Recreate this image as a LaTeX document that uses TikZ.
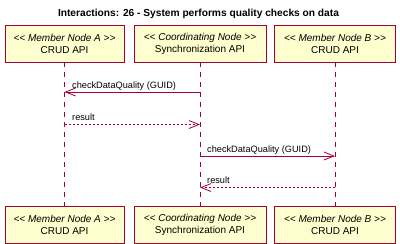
\documentclass[tikz,border=0pt]{standalone}
\usepackage{fontspec}
\setmainfont{Liberation Sans}
\usetikzlibrary{arrows.meta}
\definecolor{umlred}{HTML}{A80036}
\definecolor{umlfill}{HTML}{FEFECE}
% stereotype brackets, kept apart so the font does not join them
\newcommand{\stlt}{<\kern0pt<}
\newcommand{\stgt}{>\kern0pt>}
\begin{document}
\begin{tikzpicture}[x=1pt,y=-1pt,
  participant/.style={draw=umlred,fill=umlfill,line width=0.9pt,minimum height=37pt,
    inner sep=0pt,align=center,font=\fontsize{10}{12}\selectfont},
  lifeline/.style={draw=umlred,line width=0.9pt,dash pattern=on 5pt off 5pt},
  call/.style={draw=umlred,line width=0.8pt,-{Straight Barb[length=10pt,width=8pt,line width=0.8pt]}},
  reply/.style={call,dash pattern=on 2pt off 2pt},
  msg/.style={anchor=base west,inner sep=0pt,font=\fontsize{9.2}{11}\selectfont}]
\useasboundingbox (0,0) rectangle (400,244);
\node[font=\bfseries\fontsize{10.2}{12}\selectfont] (title) at (198.5,13.5)
  {Interactions: 26 - System performs quality checks on data};
% participants, top row
\node[participant,minimum width=119pt] (a) at (64.5,43.5) {\textit{\stlt{} Member Node A \stgt}\\CRUD API};
\node[participant,minimum width=132pt] (c) at (200,43.5) {\textit{\stlt{} Coordinating Node \stgt}\\Synchronization API};
\node[participant,minimum width=121pt] (b) at (335,43.5) {\textit{\stlt{} Member Node B \stgt}\\CRUD API};
% participants, bottom row
\node[participant,minimum width=119pt] (a2) at (64.5,224.5) {\textit{\stlt{} Member Node A \stgt}\\CRUD API};
\node[participant,minimum width=132pt] (c2) at (200,224.5) {\textit{\stlt{} Coordinating Node \stgt}\\Synchronization API};
\node[participant,minimum width=121pt] (b2) at (335,224.5) {\textit{\stlt{} Member Node B \stgt}\\CRUD API};
% lifelines
\draw[lifeline] (a.south) -- (a2.north);
\draw[lifeline] (c.south) -- (c2.north);
\draw[lifeline] (b.south) -- (b2.north);
% message rows
\coordinate (r1) at (0,92);
\coordinate (r2) at (0,124.5);
\coordinate (r3) at (0,156);
\coordinate (r4) at (0,187.5);
\draw[call] (c.south |- r1) -- (a.south |- r1);
\draw[reply] (a.south |- r2) -- (c.south |- r2);
\draw[call] (c.south |- r3) -- (b.south |- r3);
\draw[reply] (b.south |- r4) -- (c.south |- r4);
% message labels
\node[msg] (l1) at ([shift={(7.5,-4)}]a.south |- r1) {checkDataQuality (GUID)};
\node[msg] (l2) at ([shift={(7.5,-4)}]a.south |- r2) {result};
\node[msg] (l3) at ([shift={(7,-4)}]c.south |- r3) {checkDataQuality (GUID)};
\node[msg] (l4) at ([shift={(7,-4)}]c.south |- r4) {result};
\end{tikzpicture}
\end{document}
